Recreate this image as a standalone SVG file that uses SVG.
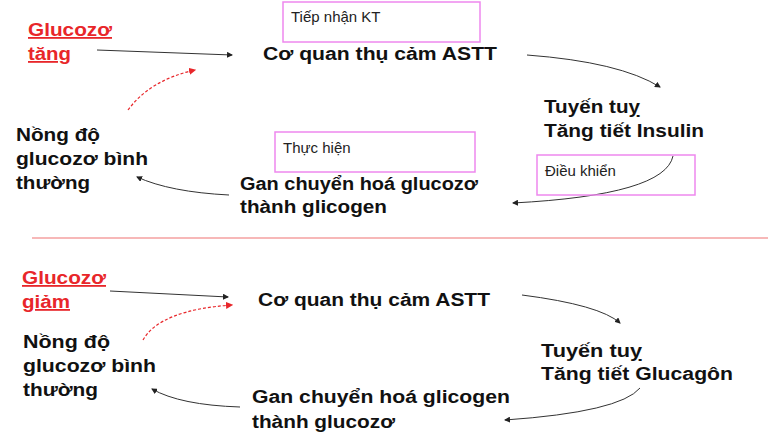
<svg xmlns="http://www.w3.org/2000/svg" width="768" height="444" viewBox="0 0 768 444">
<style>
text{font-family:"Liberation Sans",Arial,sans-serif}
.t{font-weight:bold;font-size:18px;fill:#111}
.r{font-weight:bold;font-size:18px;fill:#e8262a;text-decoration:underline}
.s{font-size:15px;fill:#222}
.b{fill:none;stroke:#ee88ee;stroke-width:1.5}
.c{fill:none;stroke:#333;stroke-width:1;marker-end:url(#a)}
.d{fill:none;stroke:#e8262a;stroke-width:1.2;stroke-dasharray:3 2;marker-end:url(#ar)}
</style>
<defs>
<marker id="a" markerWidth="6" markerHeight="6" refX="5" refY="3" orient="auto"><path d="M0,0L6,3L0,6z" fill="#222"/></marker>
<marker id="ar" markerWidth="6" markerHeight="6" refX="5" refY="3" orient="auto"><path d="M0,0L6,3L0,6z" fill="#e8262a"/></marker>
</defs>
<rect width="768" height="444" fill="#fff"/>
<line x1="32" y1="238" x2="768" y2="238" stroke="#f4a0a0" stroke-width="1.5"/>
<g id="connectors">
<path class="c" d="M97,50 L232,55"/>
<path class="c" d="M527,55 Q620,62 660,87"/>
<path class="c" d="M673,156 Q665,195 513,203"/>
<path class="c" d="M229,195 Q170,192 137,177"/>
<path class="d" d="M128,110 Q150,80 195,70"/>
<path class="c" d="M110,291 L228,297"/>
<path class="c" d="M522,295 Q600,305 620,323"/>
<path class="c" d="M640,388 Q620,412 505,420"/>
<path class="c" d="M240,407 Q180,405 152,389"/>
<path class="d" d="M143,340 Q160,310 232,305"/>
</g>
<g id="top-glucozo-tang"><text class="r" x="28" y="36" textLength="84" lengthAdjust="spacingAndGlyphs">Glucozơ</text><text class="r" x="28" y="60" textLength="43" lengthAdjust="spacingAndGlyphs">tăng</text></g>
<g id="top-co-quan"><text class="t" x="263" y="60" textLength="234" lengthAdjust="spacingAndGlyphs">Cơ quan thụ cảm ASTT</text></g>
<g id="top-tiep-nhan"><rect class="b" x="283" y="2" width="197" height="40"/><text class="s" x="291" y="22">Tiếp nhận KT</text></g>
<g id="top-tuyen-tuy"><text class="t" x="544" y="113" textLength="96" lengthAdjust="spacingAndGlyphs">Tuyến tuỵ</text><text class="t" x="544" y="137" textLength="160" lengthAdjust="spacingAndGlyphs">Tăng tiết Insulin</text></g>
<g id="top-dieu-khien"><rect class="b" x="537" y="155" width="158" height="40"/><text class="s" x="545" y="176">Điều khiển</text></g>
<g id="top-thuc-hien"><rect class="b" x="275" y="132" width="200" height="40"/><text class="s" x="283" y="153">Thực hiện</text></g>
<g id="top-gan"><text class="t" x="240" y="190" textLength="238" lengthAdjust="spacingAndGlyphs">Gan chuyển hoá glucozơ</text><text class="t" x="240" y="213" textLength="147" lengthAdjust="spacingAndGlyphs">thành glicogen</text></g>
<g id="top-nong-do"><text class="t" x="16" y="141" textLength="84" lengthAdjust="spacingAndGlyphs">Nồng độ</text><text class="t" x="16" y="165" textLength="132" lengthAdjust="spacingAndGlyphs">glucozơ bình</text><text class="t" x="16" y="189" textLength="74" lengthAdjust="spacingAndGlyphs">thường</text></g>
<g id="bot-glucozo-giam"><text class="r" x="22" y="284" textLength="84" lengthAdjust="spacingAndGlyphs">Glucozơ</text><text class="r" x="22" y="308" textLength="48" lengthAdjust="spacingAndGlyphs">giảm</text></g>
<g id="bot-co-quan"><text class="t" x="258" y="306" textLength="232" lengthAdjust="spacingAndGlyphs">Cơ quan thụ cảm ASTT</text></g>
<g id="bot-tuyen-tuy"><text class="t" x="541" y="357" textLength="101" lengthAdjust="spacingAndGlyphs">Tuyến tuỵ</text><text class="t" x="541" y="380" textLength="192" lengthAdjust="spacingAndGlyphs">Tăng tiết Glucagôn</text></g>
<g id="bot-gan"><text class="t" x="252" y="403" textLength="258" lengthAdjust="spacingAndGlyphs">Gan chuyển hoá glicogen</text><text class="t" x="252" y="428" textLength="143" lengthAdjust="spacingAndGlyphs">thành glucozơ</text></g>
<g id="bot-nong-do"><text class="t" x="23" y="348" textLength="87" lengthAdjust="spacingAndGlyphs">Nồng độ</text><text class="t" x="23" y="372" textLength="133" lengthAdjust="spacingAndGlyphs">glucozơ bình</text><text class="t" x="23" y="396" textLength="75" lengthAdjust="spacingAndGlyphs">thường</text></g>
</svg>
